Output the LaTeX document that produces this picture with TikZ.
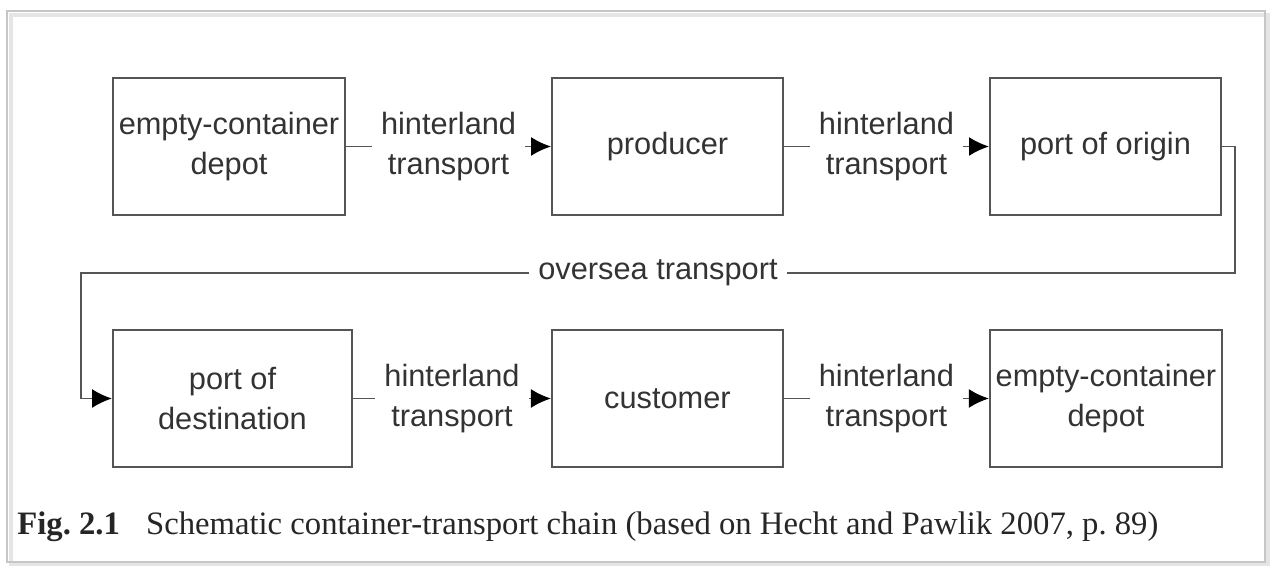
\documentclass[tikz,border=0pt]{standalone}
\usepackage{fontspec}
\setmainfont{Liberation Sans}
\newfontfamily\capfont{Liberation Serif}
\usetikzlibrary{arrows.meta, positioning}

\definecolor{boxline}{HTML}{555555}
\definecolor{boxtext}{HTML}{333333}

\begin{document}
\begin{tikzpicture}[
    station/.style={rectangle, draw=boxline, line width=1.1pt, text=boxtext,
        align=center, font=\fontsize{17.5}{22.5}\selectfont,
        minimum width = 4.62cm, minimum height = 2.74cm},
    link/.style={draw=boxline, line width=1.1pt,
        -{Latex[length=0.4cm, width=0.38cm, color=black]}},
    linklabel/.style={fill=white, text=boxtext, align=center, inner sep=0.18cm,
        font=\fontsize{17.5}{22.5}\selectfont}
]

    \useasboundingbox (0,0) rectangle (25.46,11.34);
    \draw[gray!20, line width=2pt] (0.22,0.06) rectangle (25.36,11.04);
    \draw[gray!45, line width=0.8pt] (0.14,0.10) rectangle (25.30,11.12);

    % Nodes ------------------------------------------------------

    \node[station] (depotA) at (4.58,8.41) {empty-container\\depot};
    \node[station, right=4.1cm of depotA] (producer) {producer};
    \node[station, right=4.1cm of producer] (origin) {port of origin};
    \node[station, minimum width=4.78cm] (destination) at (4.65,3.37)
        {port of\\destination};
    \node[station, right=3.96cm of destination] (customer) {customer};
    \node[station, right=4.1cm of customer] (depotB) {empty-container\\depot};

    \coordinate (turnB) at (24.70,5.88);
    \coordinate (turnC) at (1.62,5.88);

    % Links ------------------------------------------------------

    \draw[link] (depotA) -- node[linklabel] {hinterland\\transport} (producer);
    \draw[link] (producer) -- node[linklabel] {hinterland\\transport} (origin);
    \draw[link] (destination) -- node[linklabel] {hinterland\\transport} (customer);
    \draw[link] (customer) -- node[linklabel] {hinterland\\transport} (depotB);
    \draw[link] (origin.east) -| (turnB) -- node[linklabel, inner ysep=0.05cm]
        {oversea transport} (turnC) |- (destination.west);

    \node[anchor=west, inner sep=0pt, text=black!85,
        font=\capfont\frenchspacing\fontsize{18.6}{22}\selectfont]
        (caption) at (0.34,0.80)
        {\textbf{Fig. 2.1}\hspace{0.55em} Schematic container-transport chain
        (based on Hecht and Pawlik 2007, p. 89)};

\end{tikzpicture}
\end{document}
